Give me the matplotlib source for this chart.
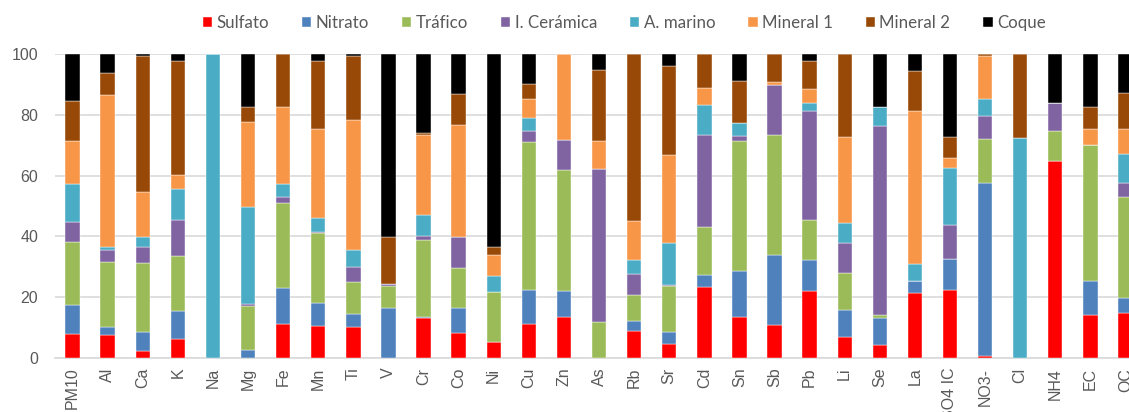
import numpy as np
import matplotlib
matplotlib.use("Agg")
import matplotlib.pyplot as plt

categories = ["PM10", "Al", "Ca", "K", "Na", "Mg", "Fe", "Mn", "Ti", "V", "Cr", "Co",
              "Ni", "Cu", "Zn", "As", "Rb", "Sr", "Cd", "Sn", "Sb", "Pb", "Li", "Se",
              "La", "SO4 IC", "NO3-", "Cl", "NH4", "EC", "OC"]

sulfato   = [7.9, 7.6, 2.2, 6.3, 0, 0, 11.3, 10.4, 10.1, 0, 13.2, 8.1, 5.3, 11.3, 13.5, 0,
             8.8, 4.5, 23.3, 13.5, 10.8, 22.0, 6.9, 4.2, 21.4, 22.3, 0.8, 0, 64.9, 14.1, 14.8]
nitrato   = [9.5, 2.5, 6.3, 9.1, 0, 2.5, 11.7, 7.7, 4.3, 16.4, 0.2, 8.5, 0, 11.0, 8.5, 0,
             3.4, 4.0, 4.0, 15.1, 23.0, 10.2, 8.8, 9.0, 4.0, 10.2, 56.9, 0, 0, 11.1, 5.0]
trafico   = [20.6, 21.5, 22.8, 18.1, 0, 14.6, 28.0, 23.0, 10.7, 7.2, 25.4, 12.9, 16.3, 48.9,
             39.8, 11.9, 8.5, 15.3, 15.9, 42.8, 39.6, 13.2, 12.1, 0.9, 0, 0, 14.4, 0, 9.8,
             44.8, 33.2]
ceramica  = [6.8, 3.9, 5.1, 11.9, 0, 0.8, 2.0, 0.3, 4.7, 0.6, 1.3, 10.3, 0, 3.5, 10.0, 50.2,
             6.9, 0.1, 30.2, 1.7, 16.3, 35.9, 10.1, 62.1, 0, 11.1, 7.6, 0, 9.1, 0, 4.7]
marino    = [12.3, 0.9, 3.4, 10.1, 100, 31.7, 4.4, 4.8, 5.7, 0, 6.9, 0, 5.3, 4.4, 0, 0,
             4.8, 13.9, 9.7, 4.2, 0, 2.5, 6.4, 6.5, 5.4, 19.0, 5.6, 72.4, 0, 0, 9.4]
mineral1  = [14.4, 50.2, 14.7, 4.7, 0, 27.9, 25.3, 29.1, 42.9, 0, 26.4, 36.7, 6.9, 6.2,
             28.2, 9.4, 12.7, 29.1, 5.7, 0, 1.0, 4.7, 28.4, 0, 50.6, 3.3, 13.9, 0, 0, 5.3, 8.2]
mineral2  = [13.1, 7.1, 45.0, 37.6, 0, 5.2, 17.3, 22.3, 21.1, 15.6, 0.6, 10.4, 2.8, 4.8, 0,
             23.3, 54.9, 29.1, 11.2, 13.9, 9.3, 9.3, 27.3, 0, 12.9, 6.8, 0.8, 27.6, 0, 7.4, 11.8]
coque     = [15.4, 6.3, 0.5, 2.2, 0, 17.3, 0, 2.4, 0.5, 60.2, 26.0, 13.1, 63.4, 9.9, 0, 5.2,
             0, 4.1, 0, 8.8, 0, 2.2, 0, 17.3, 5.7, 27.3, 0, 0, 16.2, 17.3, 12.9]

series_names = ["Sulfato", "Nitrato", "Tráfico", "I. Cerámica", "A. marino",
                "Mineral 1", "Mineral 2", "Coque"]
series_values = [sulfato, nitrato, trafico, ceramica, marino, mineral1, mineral2, coque]
colors = ["#FF0000", "#4F81BD", "#9BBB59", "#8064A2", "#4BACC6",
          "#F79646", "#984807", "#000000"]

plt.rcParams["font.family"] = ["Lato", "DejaVu Sans"]
tick_font = ["Liberation Sans", "DejaVu Sans"]

W, H = 1129, 412
fig = plt.figure(figsize=(W / 100, H / 100), dpi=100)
ax = fig.add_axes([55 / W, 54 / H, (W - 55) / W, 304 / H])

x = np.arange(len(categories))
bottom = np.zeros(len(categories))
handles = []
for name, vals, col in zip(series_names, series_values, colors):
    vals = np.array(vals, dtype=float)
    h = ax.bar(x, vals, width=0.41, bottom=bottom, color=col, label=name,
               edgecolor="white", linewidth=0.3, zorder=3)
    handles.append(h)
    bottom += vals

ax.set_ylim(0, 100)
ax.set_xlim(-0.5, 30.1)
ax.set_yticks([0, 20, 40, 60, 80, 100])
ax.yaxis.grid(True, color="#d9d9d9", linewidth=1.2, zorder=0)
ax.set_axisbelow(True)
for s in ["top", "right", "left"]:
    ax.spines[s].set_visible(False)
ax.spines["bottom"].set_color("#d9d9d9")
ax.spines["bottom"].set_linewidth(1.2)
ax.tick_params(axis="y", length=0, labelcolor="#595959", pad=12)
ax.tick_params(axis="x", length=0, labelcolor="#595959", pad=7)
ax.set_xticks(x)
ax.set_xticklabels(categories, rotation=90, va="top", family=tick_font, fontsize=11.5)
for lbl in ax.get_yticklabels():
    lbl.set_fontfamily(tick_font)
    lbl.set_fontsize(11.5)

fig.legend(handles=handles, labels=series_names, loc="center", ncol=8,
           bbox_to_anchor=(0.553, 0.944), frameon=False, fontsize=12.2,
           handlelength=0.55, handleheight=0.55, handletextpad=0.25,
           columnspacing=1.95, labelcolor="#595959")

fig.savefig("out.png", dpi=100)
